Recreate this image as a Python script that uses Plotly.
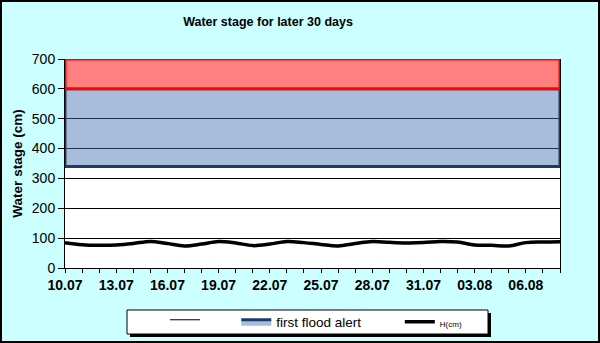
import pandas as pd
import plotly.graph_objects as go

# ---- data ----
days = ["10.07", "11.07", "12.07", "13.07", "14.07", "15.07", "16.07", "17.07", "18.07", "19.07",
        "20.07", "21.07", "22.07", "23.07", "24.07", "25.07", "26.07", "27.07", "28.07", "29.07",
        "30.07", "31.07", "01.08", "02.08", "03.08", "04.08", "05.08", "06.08", "07.08", "08.08"]
h_cm = [85, 78, 76, 77, 82, 89, 82, 74, 80, 89,
        84, 75, 80, 89, 85, 79, 74, 82, 89, 86,
        84, 85, 89, 87, 77, 76, 74, 85, 87, 88]
white_top = 340          # top of the white band
first_alert_top = 600    # top of the "first flood alert" band
red_top = 700            # top of the red band
y_ticks = [0, 100, 200, 300, 400, 500, 600, 700]

x = pd.to_datetime([d + ".2013" for d in days], format="%d.%m.%Y")
x0, x1 = x[0], x[-1]

FONT = "Liberation Sans, Arial, sans-serif"
W, H = 600, 343
L, R, T, B = 65, 40, 59, 75
pw, ph = W - L - R, H - T - B


def px_x(p):
    return (p - L) / pw


def px_y(p):
    return (H - B - p) / ph


NB = "&nbsp;"
fig = go.Figure()

# white band (legend entry without label)
fig.add_trace(go.Scatter(
    x=x, y=[white_top] * len(x), mode="lines", fill="tozeroy",
    fillcolor="rgba(255,255,255,0)", line=dict(color="black", width=1),
    name=NB * 7, hoverinfo="skip"))

# blue band: first flood alert
fig.add_trace(go.Scatter(
    x=[x0, x1, x1, x0, x0],
    y=[white_top, white_top, first_alert_top, first_alert_top, white_top],
    mode="lines", fill="toself", fillcolor="rgba(66,113,178,0.467)",
    line=dict(color="#1F3A68", width=3), name="first flood alert" + NB * 9,
    hoverinfo="skip"))

# red band
fig.add_trace(go.Scatter(
    x=[x0, x1, x1, x0, x0],
    y=[first_alert_top, first_alert_top, red_top, red_top, first_alert_top],
    mode="lines", fill="toself", fillcolor="#FF8080",
    line=dict(color="#FF0000", width=3), showlegend=False, hoverinfo="skip"))

# water stage line
fig.add_trace(go.Scatter(
    x=x, y=h_cm, mode="lines", line=dict(color="black", width=3.5, shape="spline"),
    name="<span style='font-size:8px'>H(cm)</span>"))

# legend box with shadow, and outer border
fig.add_shape(type="rect", xref="paper", yref="paper",
              x0=px_x(130), x1=px_x(491), y0=px_y(337), y1=px_y(313),
              fillcolor="black", line=dict(width=0))
fig.add_shape(type="rect", xref="paper", yref="paper",
              x0=px_x(127), x1=px_x(488), y0=px_y(334), y1=px_y(310),
              fillcolor="white", line=dict(color="black", width=1))
fig.add_shape(type="rect", xref="paper", yref="paper",
              x0=px_x(1), x1=px_x(599), y0=px_y(342), y1=px_y(1),
              fillcolor="rgba(0,0,0,0)", line=dict(color="black", width=2))

fig.update_layout(
    width=W, height=H,
    margin=dict(l=L, r=R, t=T, b=B, autoexpand=False),
    paper_bgcolor="#CCFFFF", plot_bgcolor="white",
    font=dict(family=FONT, color="black"),
    title=dict(text="<b>Water stage for later 30 days</b>", x=268 / W, xanchor="center",
               y=1 - 22 / H, yanchor="middle", font=dict(size=12.5, family=FONT)),
    showlegend=True,
    legend=dict(orientation="h", xref="container", yref="container",
                x=165 / W, xanchor="left", y=1 - 322 / H, yanchor="middle",
                bgcolor="rgba(0,0,0,0)", borderwidth=0,
                font=dict(size=13.5, family=FONT), itemwidth=30, traceorder="normal"),
    xaxis=dict(type="date", range=[x0, x1], tickformat="%d.%m", tick0=x0,
               dtick=3 * 86400000, ticks="outside", ticklen=4, tickcolor="black",
               showline=True, linecolor="black", linewidth=1, showgrid=False, zeroline=False,
               tickfont=dict(size=14, family=FONT), fixedrange=True,
               minor=dict(dtick=86400000, ticks="outside", ticklen=4, tickcolor="black",
                          showgrid=False)),
    yaxis=dict(range=[0, 700], tickvals=y_ticks, ticks="outside", ticklen=6,
               tickcolor="black", showline=True, linecolor="black", linewidth=1,
               mirror=True, showgrid=True, gridcolor="black", gridwidth=1, zeroline=False,
               tickfont=dict(size=14, family=FONT), layer="below traces",
               title=dict(text="<b>Water stage (cm)</b>", font=dict(size=13.5, family=FONT),
                          standoff=6)),
)
fig.update_xaxes(tickprefix="<b>", ticksuffix="</b>")
fig.update_yaxes(tickprefix="<b>", ticksuffix="</b> ")

fig.write_html("out.html")
